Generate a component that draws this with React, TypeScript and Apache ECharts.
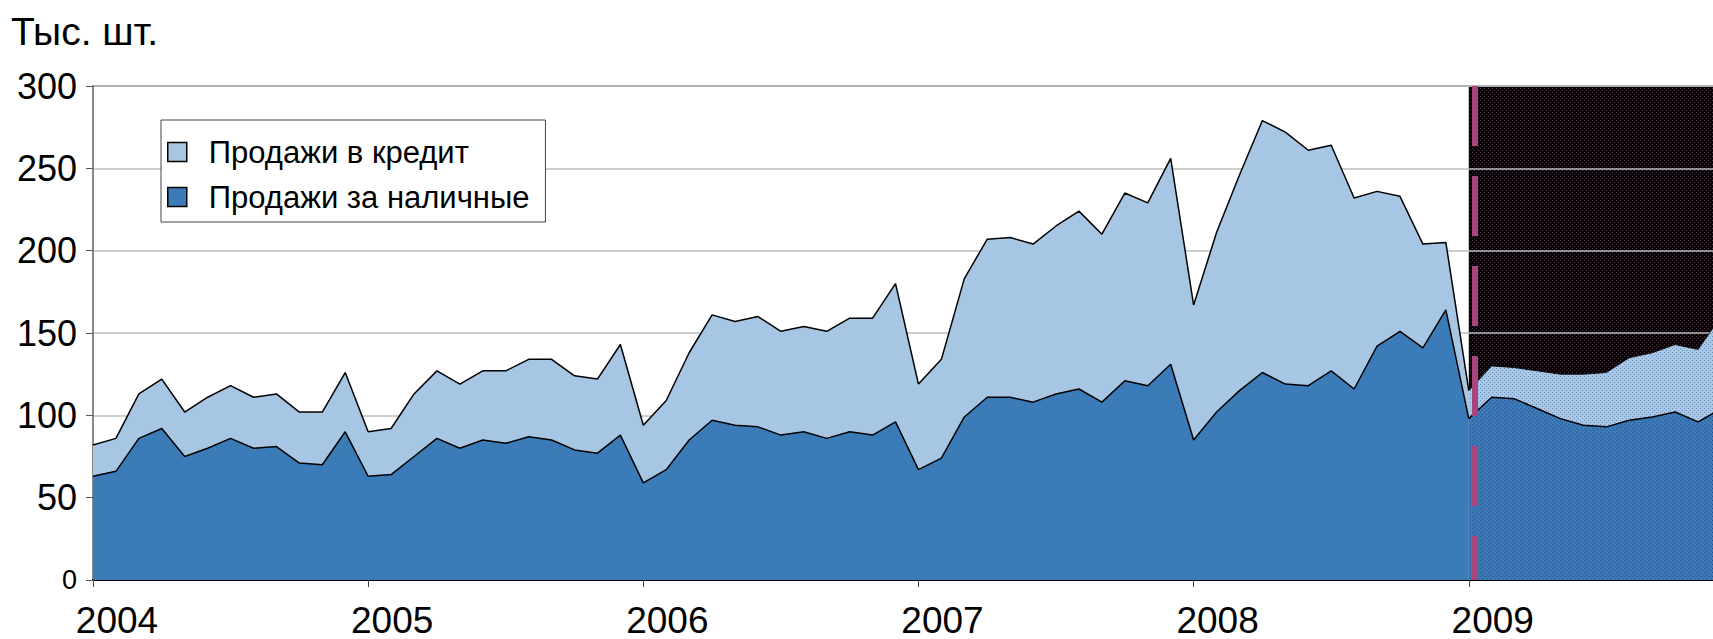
import React, { useEffect, useRef } from 'react';
import * as echarts from 'echarts';

// Monthly car sales, thousands of units, Jan 2004 .. Dec 2009
const yearLabels = ['2004', '2005', '2006', '2007', '2008', '2009'];
const yMin = 0;
const yMax = 300;
const yStep = 50;

const cashSales = [
  63, 66, 86, 92, 75, 80, 86, 80, 81, 71, 70, 90,
  63, 64, 75, 86, 80, 85, 83, 87, 85, 79, 77, 88,
  59, 67, 85, 97, 94, 93, 88, 90, 86, 90, 88, 96,
  67, 74, 99, 111, 111, 108, 113, 116, 108, 121, 118, 131,
  85, 102, 115, 126, 119, 118, 127, 116, 142, 151, 141, 164,
  98, 111, 110, 104, 98, 94, 93, 97, 99, 102, 96, 104,
];
const creditSales = [
  19, 20, 27, 30, 27, 31, 32, 31, 32, 31, 32, 36,
  27, 28, 38, 41, 39, 42, 44, 47, 49, 45, 45, 55,
  35, 42, 53, 64, 63, 67, 63, 64, 65, 69, 71, 84,
  52, 60, 84, 96, 97, 96, 102, 108, 102, 114, 111, 125,
  82, 109, 131, 153, 153, 143, 137, 116, 94, 82, 63, 41,
  17, 19, 19, 23, 27, 31, 33, 38, 39, 41, 44, 56,
];
const forecastStart = 60; // Jan 2009
const forecastMarker = 60.25;

const seriesNames = ['Продажи в кредит', 'Продажи за наличные'];
const titleText = 'Тыс. шт.';

const CREDIT = '#a7c6e4';
const CASH = '#3a7bb8';
const FONT = '"Liberation Sans", Arial, sans-serif';

function makePattern(bg: string, dot: string, size: number) {
  const c = document.createElement('canvas');
  c.width = size;
  c.height = size;
  const ctx = c.getContext('2d')!;
  ctx.fillStyle = bg;
  ctx.fillRect(0, 0, size, size);
  ctx.fillStyle = dot;
  ctx.fillRect(0, 0, 1, 1);
  ctx.fillRect(size / 2, size / 2, 1, 1);
  return { image: c, repeat: 'repeat', imageWidth: size, imageHeight: size } as any;
}

export default function App() {
  const ref = useRef<HTMLDivElement>(null);

  useEffect(() => {
    if (!ref.current) return;
    const chart = echarts.init(ref.current, null, { renderer: 'svg' });

    const months = cashSales.map((_, i) => String(i));
    const histOnly = (arr: number[]) => arr.map((v, i) => (i <= forecastStart ? v : '-'));
    const fcOnly = (arr: number[]) => arr.map((v, i) => (i >= forecastStart ? v : '-'));
    const bgData = cashSales.map((_, i) => (i >= forecastStart ? yMax : '-'));

    const blackPat = makePattern('#060206', '#4a3444', 4);
    const creditPat = makePattern('#a9c8e8', '#6f8fb8', 4);
    const cashPat = makePattern('#3b79b9', '#22538a', 4);

    const lineStyle = { color: '#000', width: 1.5 };

    chart.setOption({
      animation: false,
      backgroundColor: '#fff',
      grid: {
        left: 93,
        top: 86,
        bottom: 59,
        right: 39,
        show: true,
        borderColor: '#999',
        borderWidth: 2,
        outerBoundsMode: 'none',
      },
      legend: {
        show: true,
        orient: 'vertical',
        left: 161,
        top: 120,
        selectedMode: false,
        data: [
          { name: seriesNames[0], itemStyle: { color: CREDIT, borderColor: '#000', borderWidth: 1.5 } },
          { name: seriesNames[1], itemStyle: { color: CASH, borderColor: '#000', borderWidth: 1.5 } },
        ],
        icon: 'rect',
        itemWidth: 19,
        itemHeight: 19,
        itemGap: 11,
        backgroundColor: '#fff',
        borderColor: '#444',
        borderWidth: 1,
        padding: [15, 16, 8, 6],
        textStyle: {
          fontSize: 31,
          fontFamily: FONT,
          color: '#000',
          lineHeight: 34,
          padding: [0, 0, 0, 17],
        },
      },
      graphic: [
        {
          type: 'text',
          left: 11,
          top: 12,
          style: { text: titleText, fontSize: 39, fontFamily: FONT, fill: '#000' },
        },
      ],
      xAxis: [
        {
          type: 'category',
          data: months,
          boundaryGap: false,
          axisLine: { show: true, onZero: false, lineStyle: { color: '#000', width: 2 } },
          axisTick: { show: true, interval: 11, length: 7, lineStyle: { color: '#444', width: 1 } },
          axisLabel: {
            show: true,
            interval: 11,
            margin: 22,
            fontSize: 37,
            lineHeight: 36,
            fontFamily: FONT,
            color: '#000',
            padding: [0, 0, 0, 48],
            formatter: (_: string, index: number) => yearLabels[index / 12] ?? '',
          },
          splitLine: { show: false },
        },
        {
          type: 'value',
          min: 0,
          max: cashSales.length - 1,
          show: false,
        },
      ],
      yAxis: {
        type: 'value',
        min: yMin,
        max: yMax,
        interval: yStep,
        axisLine: { show: true, lineStyle: { color: '#888', width: 2 } },
        axisTick: { show: true, length: 7, lineStyle: { color: '#555', width: 1 } },
        axisLabel: {
          margin: 16,
          fontSize: 36,
          fontFamily: FONT,
          color: '#000',
          formatter: (v: number) => (v === yMin ? '{s|' + v + '}' : String(v)),
          rich: { s: { fontSize: 27, fontFamily: FONT, color: '#000' } },
        },
        splitLine: { show: true, lineStyle: { color: '#bdbdbd', width: 1.5 } },
      },
      series: [
        {
          name: 'forecast-bg',
          type: 'line',
          z: -1,
          symbol: 'none',
          silent: true,
          data: bgData,
          lineStyle: { width: 0 },
          areaStyle: { color: blackPat, opacity: 1 },
        },
        {
          name: seriesNames[1],
          type: 'line',
          stack: 'hist',
          symbol: 'none',
          data: histOnly(cashSales),
          itemStyle: { color: CASH },
          lineStyle,
          areaStyle: { color: CASH, opacity: 1 },
        },
        {
          name: seriesNames[0],
          type: 'line',
          stack: 'hist',
          symbol: 'none',
          data: histOnly(creditSales),
          itemStyle: { color: CREDIT },
          lineStyle,
          areaStyle: { color: CREDIT, opacity: 1 },
        },
        {
          name: 'fc-cash',
          type: 'line',
          stack: 'fc',
          symbol: 'none',
          data: fcOnly(cashSales),
          itemStyle: { color: CASH },
          lineStyle,
          areaStyle: { color: cashPat, opacity: 1 },
        },
        {
          name: 'fc-credit',
          type: 'line',
          stack: 'fc',
          symbol: 'none',
          z: 3,
          data: fcOnly(creditSales),
          itemStyle: { color: CREDIT },
          lineStyle: { color: '#111', width: 1 },
          areaStyle: { color: creditPat, opacity: 1 },
        },
        {
          name: 'forecast-marker',
          type: 'line',
          xAxisIndex: 1,
          symbol: 'none',
          silent: true,
          data: [],
          markLine: {
            silent: true,
            symbol: 'none',
            z: 6,
            label: { show: false },
            lineStyle: { color: '#a8457d', width: 6, type: [60, 30], dashOffset: 16, opacity: 1 },
            data: [{ xAxis: forecastMarker }],
          },
        },
      ],
    });

    return () => chart.dispose();
  }, []);

  return (
    <div
      style={{
        position: 'fixed',
        left: 0,
        top: 0,
        width: 1713,
        height: 639,
        overflow: 'hidden',
        background: '#fff',
      }}
    >
      <div ref={ref} style={{ width: 1760, height: 639 }} />
    </div>
  );
}
